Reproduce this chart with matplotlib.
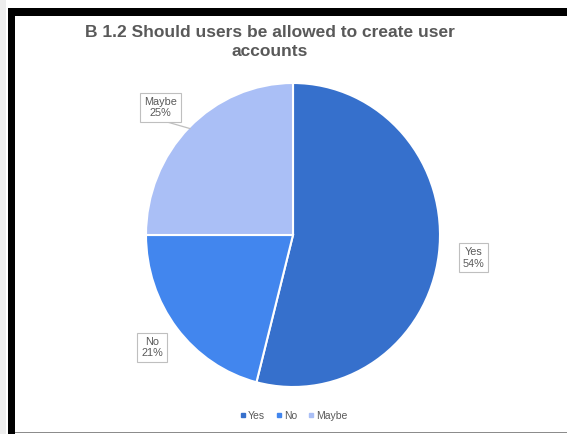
import matplotlib.pyplot as plt
from matplotlib.patches import Rectangle
from matplotlib.lines import Line2D

plt.rcParams['font.family'] = ['Liberation Sans', 'DejaVu Sans']

labels = ['Yes', 'No', 'Maybe']
shares = [54, 21, 25]
colors = ['#3670CC', '#4286EE', '#AABFF6']
title = 'B 1.2 Should users be allowed to create user\naccounts'

W, H = 567, 434
fig = plt.figure(figsize=(W / 100, H / 100), dpi=100)

# frame around the chart area
fig.patches.append(Rectangle((0, 0), 6 / W, 1, transform=fig.transFigure,
                             facecolor='#EDEDED', edgecolor='none', zorder=0))
fig.patches.append(Rectangle((8 / W, 0), 7 / W, 1 - 8 / H, transform=fig.transFigure,
                             facecolor='black', edgecolor='none', zorder=1))
fig.patches.append(Rectangle((8 / W, 1 - 16 / H), 1, 8 / H, transform=fig.transFigure,
                             facecolor='black', edgecolor='none', zorder=1))
fig.patches.append(Rectangle((15 / W, 1.0 / H), 1, 1.5 / H, transform=fig.transFigure,
                             facecolor='#8C8C8C', edgecolor='none', zorder=1))

cx, cy, rx, ry = 293, 235, 147, 152
ax = fig.add_axes([(cx - rx) / W, (H - cy - ry) / H, 2 * rx / W, 2 * ry / H])
wedges, _ = ax.pie(shares, colors=colors, startangle=90, counterclock=False,
                   wedgeprops=dict(edgecolor='white', linewidth=1.5))
ax.set_aspect('auto')
ax.set_xlim(-1, 1)
ax.set_ylim(-1, 1)
ax.axis('off')

# leader line for the Maybe label, drawn under its box
ax.add_line(Line2D([-0.88, -0.70], [0.75, 0.70], color='#BFBFBF', linewidth=0.9,
                   clip_on=False, zorder=2))

box = dict(boxstyle='square,pad=0.35', facecolor='white', edgecolor='#BFBFBF', linewidth=0.8)
label_pos = [(1.23, -0.15), (-0.96, -0.74), (-0.90, 0.84)]
for name, val, (lx, ly) in zip(labels, shares, label_pos):
    ax.text(lx, ly, f'{name}\n{val}%', ha='center', va='center', fontsize=7.8,
            color='#595959', bbox=box, clip_on=False, linespacing=1.2, zorder=3)

fig.text(269.5 / W, 1 - 25 / H, title, ha='center', va='top', fontsize=12.5,
         fontweight='bold', color='#595959', linespacing=1.3)

handles = [Line2D([], [], marker='s', linestyle='none', markersize=3.5,
                  markerfacecolor=c, markeredgecolor=c) for c in colors]
fig.legend(handles, labels, loc='center', bbox_to_anchor=(293 / W, 18 / H), ncol=3,
           frameon=False, fontsize=7.5, labelcolor='#595959', handletextpad=0.1,
           columnspacing=0.9, handlelength=0.8)

fig.savefig('out.png', dpi=100, facecolor='white')
